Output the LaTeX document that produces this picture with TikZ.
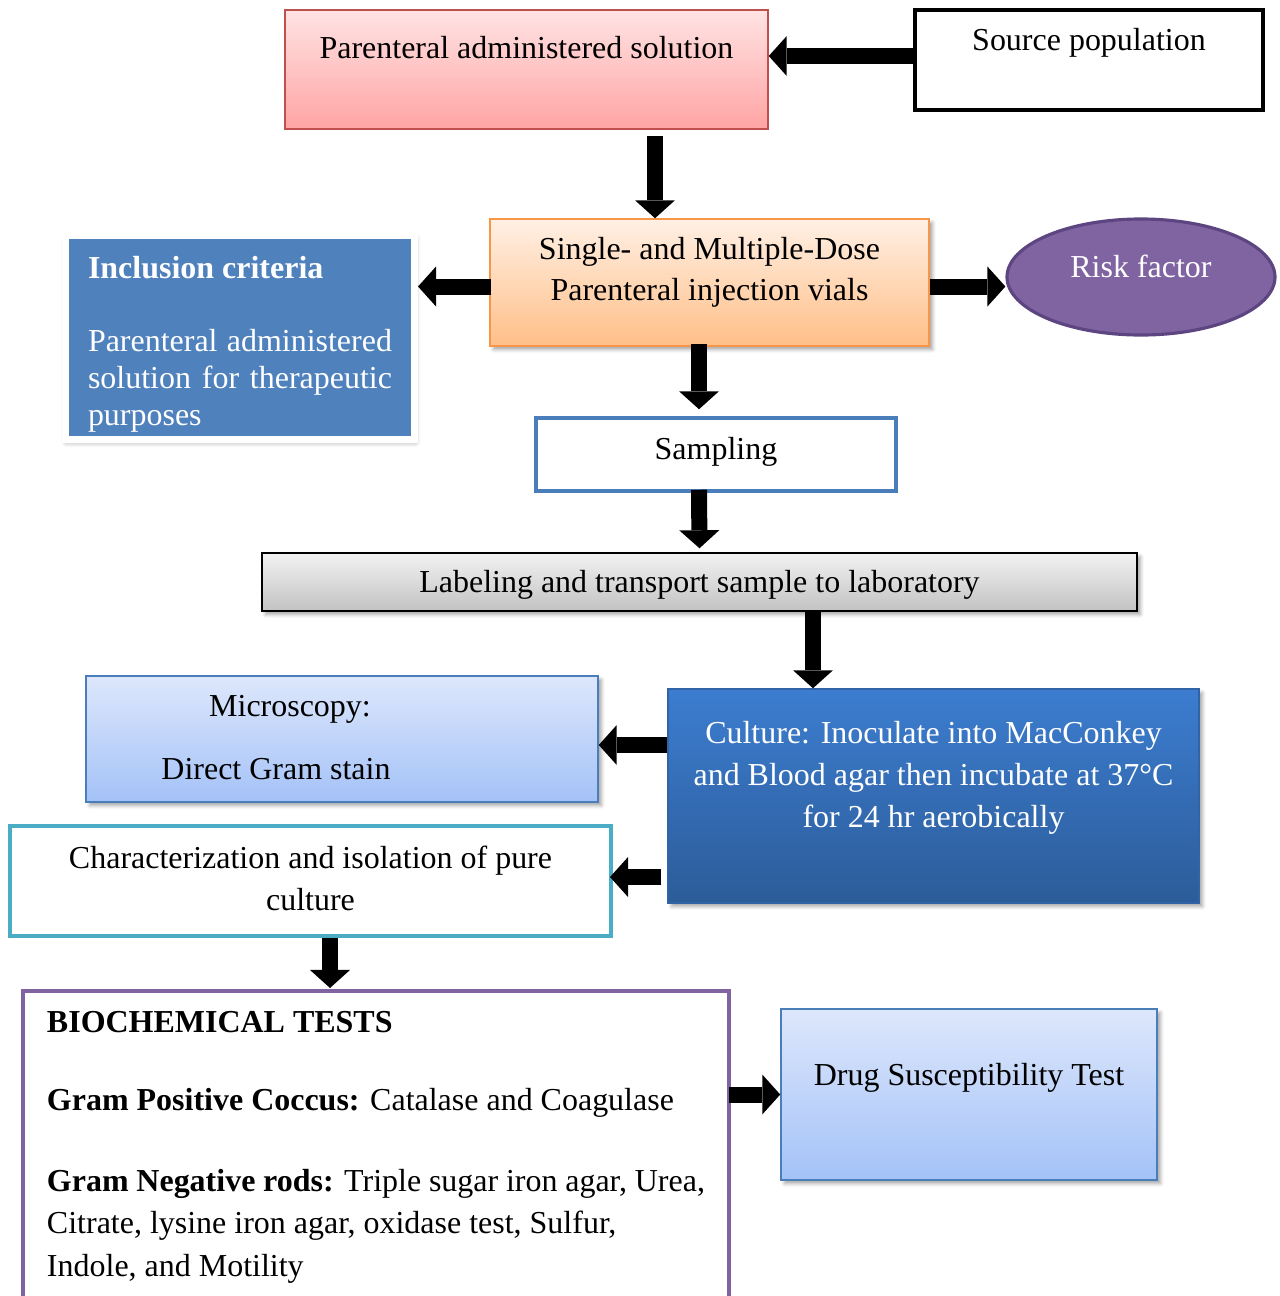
\documentclass[tikz,border=0pt]{standalone}
\usepackage{fontspec}
\setmainfont{Liberation Serif}
\usetikzlibrary{arrows.meta,calc,shapes.geometric,shadows.blur}

\newlength{\pxu}
\setlength{\pxu}{0.02cm}
\newcommand{\lift}[2]{\raisebox{#1\pxu}[0pt][0pt]{\begin{tabular}[t]{@{}c@{}}#2\end{tabular}}}

\definecolor{pinkedge}{HTML}{C0504D}
\definecolor{pinktop}{HTML}{FFE3E3}
\definecolor{pinkbot}{HTML}{FFA4A4}
\definecolor{peachedge}{HTML}{F79646}
\definecolor{peachtop}{HTML}{FFF0E4}
\definecolor{peachbot}{HTML}{FFBF88}
\definecolor{inclblue}{HTML}{4F81BD}
\definecolor{riskfill}{HTML}{8064A2}
\definecolor{riskedge}{HTML}{5C4580}
\definecolor{sampedge}{HTML}{4A7EBB}
\definecolor{graytop}{HTML}{F3F3F3}
\definecolor{graybot}{HTML}{C2C2C2}
\definecolor{skytop}{HTML}{DDE7FC}
\definecolor{skybot}{HTML}{A4C2F7}
\definecolor{culttop}{HTML}{3C7DD0}
\definecolor{cultbot}{HTML}{2C5C99}
\definecolor{charedge}{HTML}{4BACC6}
\definecolor{bioedge}{HTML}{8064A2}

\begin{document}
\begin{tikzpicture}
[
    x = 0.02cm, y = -0.02cm,
    box/.style      = {rectangle,
                       inner sep=0pt,
                       line width=0.85pt,
                       font=\fontsize{18.2}{23.9}\selectfont},
    shade/.style    = {blur shadow={shadow xshift=2pt,
                                    shadow yshift=-2pt,
                                    shadow blur radius=2pt,
                                    shadow opacity=35}},
    pinkbox/.style  = {box, draw=pinkedge, top color=pinktop, bottom color=pinkbot},
    srcbox/.style   = {box, draw, fill=white, line width=2.3pt},
    peachbox/.style = {box, shade, draw=peachedge, top color=peachtop, bottom color=peachbot},
    inclbox/.style  = {box, draw=white, fill=inclblue, line width=4pt, text=white,
                       blur shadow={shadow xshift=0.5pt,
                                    shadow yshift=-1.5pt,
                                    shadow blur radius=3pt,
                                    shadow opacity=40}},
    riskell/.style  = {ellipse, inner sep=0pt, draw=riskedge, fill=riskfill,
                       line width=1.8pt, text=white,
                       font=\fontsize{18.2}{23.9}\selectfont},
    sampbox/.style  = {box, draw=sampedge, fill=white, line width=2pt},
    graybox/.style  = {box, shade, draw, top color=graytop, bottom color=graybot},
    skybox/.style   = {box, shade, draw=sampedge, top color=skytop, bottom color=skybot},
    cultbox/.style  = {box, shade, draw=culttop!80!black, top color=culttop,
                       bottom color=cultbot, text=white},
    charbox/.style  = {box, draw=charedge, fill=white, line width=2.3pt},
    biobox/.style   = {box, draw=bioedge, fill=white, line width=2.3pt},
    arr/.style      = {line width=0.32cm,
                       -{Triangle[width=0.8cm,length=0.36cm,line width=0pt]}}
]

\useasboundingbox (0,0) rectangle (1280,1296);

\node (parent) [pinkbox, minimum width=483\pxu, minimum height=119\pxu] at (526.5,69.5) {
\lift{11.5}{Parenteral administered solution}
};

\node (source) [srcbox, minimum width=348\pxu, minimum height=100\pxu] at (1089,60) {
\lift{10}{Source population}
};

\node (vials) [peachbox, minimum width=439\pxu, minimum height=127\pxu] at (709.5,282.5) {
\lift{23.5}{Single- and Multiple-Dose\\Parenteral injection vials}
};

\node (incl) [inclbox, minimum width=349\pxu, minimum height=204\pxu] at (240,337.5) {
\raisebox{59.5\pxu}[0pt][0pt]{\parbox[t]{304\pxu}{\fontsize{18.2}{21}\selectfont
\textbf{Inclusion criteria}\\[37\pxu]
Parenteral administered\linebreak solution for therapeutic\linebreak purposes}}
};

\node (risk) [riskell, minimum width=268\pxu, minimum height=116\pxu] at (1141,277) {
\lift{0}{Risk factor}
};

\node (sampling) [sampbox, minimum width=360\pxu, minimum height=73\pxu] at (716,454.5) {
\lift{-4.5}{Sampling}
};

\node (label) [graybox, minimum width=875\pxu, minimum height=58\pxu] at (699.5,582) {
\lift{-10}{Labeling and transport sample to laboratory}
};

\node (micro) [skybox, minimum width=512\pxu, minimum height=126\pxu] at (342,739) {
\raisebox{23\pxu}[0pt][0pt]{\begin{tabular}[t]{@{}c@{\hspace{132\pxu}}}
\hspace*{28\pxu}Microscopy:\\[21\pxu]
Direct Gram stain
\end{tabular}}
};

\node (culture) [cultbox, minimum width=531\pxu, minimum height=214\pxu] at (933.5,796) {
\lift{53}{Culture: Inoculate into MacConkey\\and Blood agar then incubate at 37°C\\[1\pxu]for 24 hr aerobically}
};

\node (charac) [charbox, minimum width=601\pxu, minimum height=110\pxu] at (310.5,881) {
\lift{13}{Characterization and isolation of pure\\culture}
};

\node (bio) [biobox, minimum width=706\pxu, minimum height=338\pxu] at (376,1160) {
\raisebox{128\pxu}[0pt][0pt]{\parbox[t]{658\pxu}{\raggedright\fontsize{18.2}{24.2}\selectfont
\textbf{BIOCHEMICAL TESTS}\\[36\pxu]
\textbf{Gram Positive Coccus:} Catalase and Coagulase\\[38\pxu]
\textbf{Gram Negative rods:} Triple sugar iron agar, Urea,\\
Citrate, lysine iron agar, oxidase test, Sulfur,\\
Indole, and Motility}}
};

\node (drug) [skybox, minimum width=376\pxu, minimum height=171\pxu] at (969,1094.5) {
\lift{9.5}{Drug Susceptibility Test}
};

\draw[arr] ($(source.west)+(0,-4)$) -- ($(source.west -| parent.east)+(0,-4)$);
\draw[arr] ($(vials.north |- parent.south)+(-54.5,6)$) -- ($(vials.north)+(-54.5,0)$);
\draw[arr] ($(vials.west)+(2,4)$) -- ($(vials.west -| incl.east)+(0,4)$);
\draw[arr] ($(vials.east)+(0,4)$) -- ($(vials.east -| risk.west)+(0,4)$);
\draw[arr] ($(vials.south)+(-10.5,-3)$) -- ($(sampling.north)+(-17,-7)$);
\draw[arr] ($(sampling.south)+(-17,-3)$) -- ($(label.north)+(0,-4)$);
\draw[arr] ($(culture.north |- label.south)+(-120.5,0)$) -- ($(culture.north)+(-120.5,0)$);
\draw[arr] ($(culture.west)+(0,-51)$) -- ($(culture.west -| micro.east)+(0,-51)$);
\draw[arr] ($(culture.west)+(-6,81)$) -- ($(culture.west -| charac.east)+(-3,81)$);
\draw[arr] ($(charac.south)+(19.5,0)$) -- ($(charac.south |- bio.north)+(19.5,-1)$);
\draw[arr] ($(bio.east |- drug.west)+(-2,0)$) -- (drug.west);

\end{tikzpicture}
\end{document}
